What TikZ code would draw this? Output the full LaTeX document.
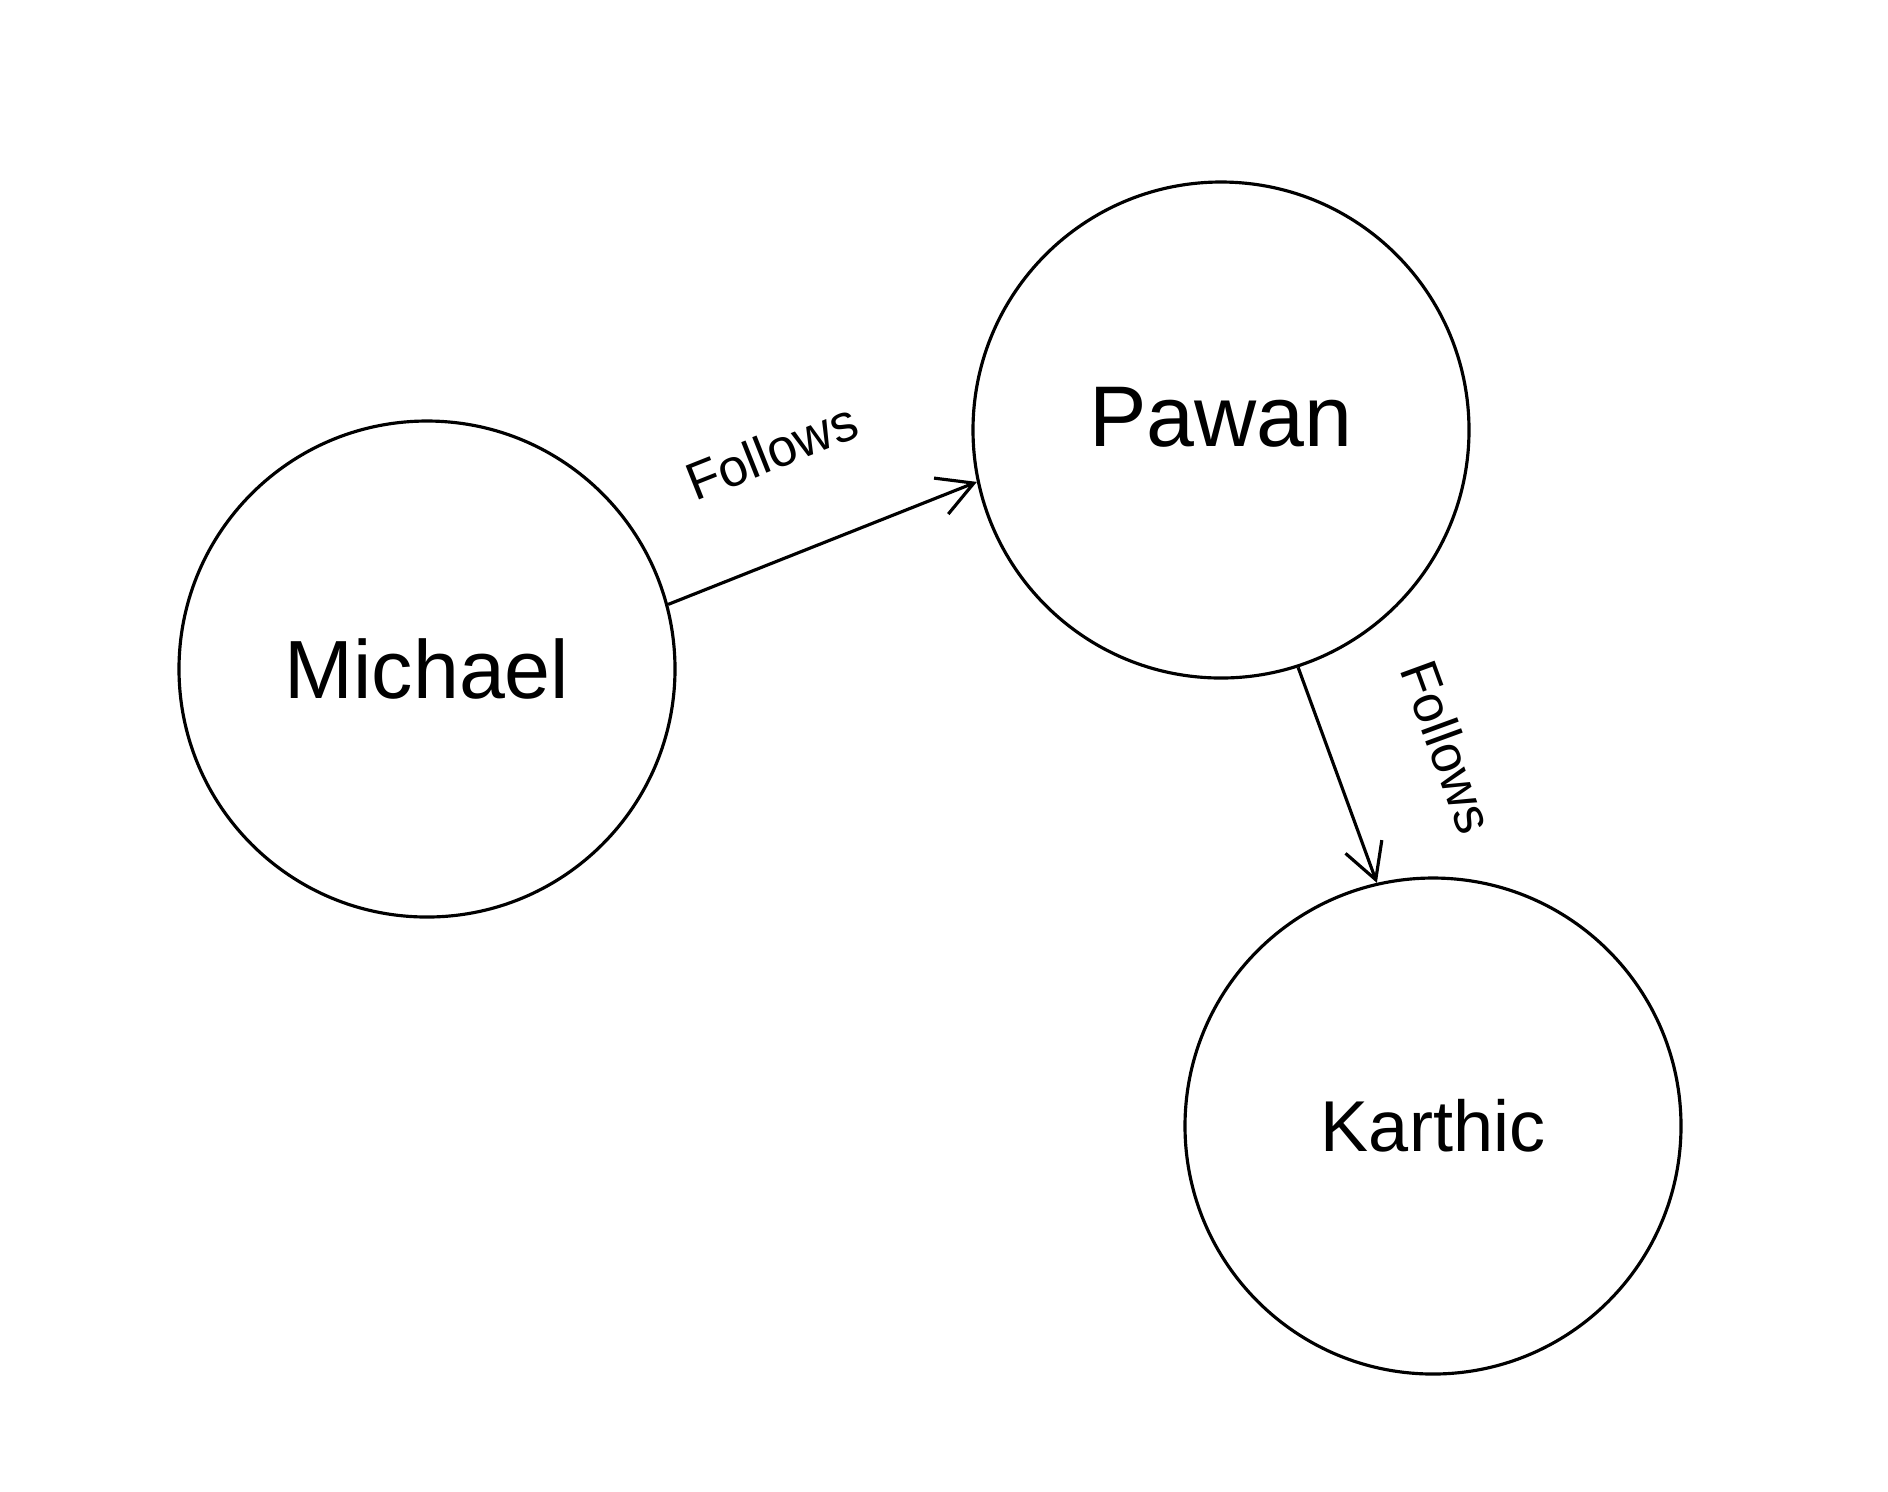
\documentclass[tikz,border=0pt]{standalone}
\usepackage{fontspec}
\setmainfont{Liberation Sans}
\usetikzlibrary{positioning,arrows.meta}
\tikzset{roundnode/.style={circle, draw=black, fill=white, line width=0.9pt, minimum size=4.96cm, inner sep=0pt, font=\fontsize{23.5}{28}\selectfont},
followlabel/.style={sloped, inner sep=0pt, font=\fontsize{15}{18}\selectfont},}

\begin{document}
\begin{tikzpicture}[node distance=3cm, >={Straight Barb[length=10pt,width=11pt]}]
\fill[white] (0,0) rectangle (18.88,-14.91);
\useasboundingbox (0,0) rectangle (18.88,-14.91);
\node [roundnode] (michael) at (4.27,-6.69) {Michael};
\node [roundnode, font=\fontsize{24.5}{29}\selectfont, text depth=0.26cm] (pawan) [on grid, above right=2.39cm and 7.94cm of michael] {Pawan};
\node [roundnode, font=\fontsize{20.5}{25}\selectfont] (karthic) [on grid, below right=6.96cm and 2.12cm of pawan] {Karthic};
\draw[line width=0.9pt, ->] (michael.15) -- node[followlabel, pos=0.46, above=0.83cm] (f1) {Follows} (pawan.192);
\draw[line width=0.9pt, ->] (pawan.-72) -- node[followlabel, pos=0.55, above=0.92cm] (f2) {Follows} (karthic.103);
\end{tikzpicture}
\end{document}
